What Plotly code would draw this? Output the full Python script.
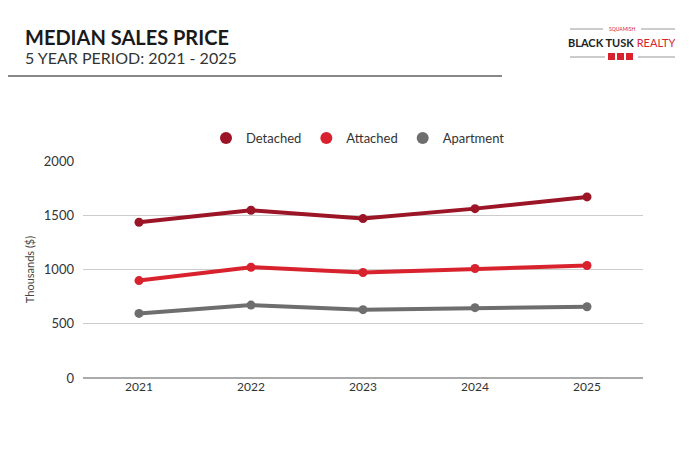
import plotly.graph_objects as go

years = ["2021", "2022", "2023", "2024", "2025"]
detached = [1435, 1546, 1469, 1561, 1669]
attached = [898, 1021, 972, 1009, 1037]
apartment = [595, 672, 630, 648, 657]
y_ticks = [0, 500, 1000, 1500, 2000]

FONT = "Lato"
series = [
    ("Detached", detached, "#9b1526"),
    ("Attached", attached, "#d8232e"),
    ("Apartment", apartment, "#6e6e6e"),
]

# screen-space plot box (the page body adds an 8px offset)
OFF = 8
L, T, W, H = 83, 161, 560, 217

def px(x):
    return (x - L) / W

def py(y):
    return 1 + (T - y) / H

fig = go.Figure()
for name, vals, col in series:
    fig.add_trace(go.Scatter(
        x=years, y=vals, name=name, mode="lines+markers", showlegend=False,
        line=dict(color=col, width=4),
        marker=dict(color=col, size=9),
    ))
    fig.add_trace(go.Scatter(
        x=[None], y=[None], name=name, mode="markers", showlegend=True,
        marker=dict(color=col, size=13),
    ))

fig.update_layout(
    width=700, height=450,
    paper_bgcolor="white", plot_bgcolor="white",
    margin=dict(l=L - OFF, r=700 - (L + W - OFF), t=T - OFF, b=450 - (T + H - OFF)),
    font=dict(family=FONT, color="#333333", size=12),
    showlegend=True,
    legend=dict(orientation="h", x=px(358), xanchor="center", y=py(138), yanchor="middle",
                font=dict(size=13, color="#333333"), itemsizing="constant",
                itemwidth=30, traceorder="normal", tracegroupgap=0),
    xaxis=dict(type="category", range=[-0.5, 4.5], showgrid=False, showline=False,
               ticks="", tickfont=dict(size=12, color="#333333")),
    yaxis=dict(range=[0, 2000], tickvals=y_ticks, showgrid=True, gridcolor="#cccccc",
               gridwidth=1, zeroline=True, zerolinecolor="#aaaaaa", zerolinewidth=2,
               tickfont=dict(size=13, color="#333333"), ticklabelstandoff=8,
               title=dict(text="Thousands ($)", font=dict(size=11, color="#444444"), standoff=6)),
)

# Title block
fig.add_annotation(text="<b>MEDIAN SALES PRICE</b>", xref="paper", yref="paper",
                   x=px(23), y=py(37), xanchor="left", yanchor="middle",
                   showarrow=False, font=dict(size=20, color="#1a1a1a", family=FONT))
fig.add_annotation(text="5 YEAR PERIOD: 2021 - 2025", xref="paper", yref="paper",
                   x=px(23), y=py(58), xanchor="left", yanchor="middle",
                   showarrow=False, font=dict(size=16, color="#333333", family=FONT))
fig.add_shape(type="line", xref="paper", yref="paper",
              x0=px(0), x1=px(502), y0=py(76), y1=py(76),
              line=dict(color="#888888", width=2))

# Logo
fig.add_annotation(text="SQUAMISH", xref="paper", yref="paper", x=px(622), y=py(29),
                   xanchor="center", yanchor="middle",
                   showarrow=False, font=dict(size=5, color="#d8232e", family=FONT))
fig.add_annotation(text="<b>BLACK TUSK</b> <span style='color:#d8232e'>REALTY</span>",
                   xref="paper", yref="paper", x=px(621.5), y=py(43),
                   xanchor="center", yanchor="middle",
                   showarrow=False, font=dict(size=11, color="#222222", family=FONT))
for x0, x1, y in [(570, 603, 29), (641, 675, 29), (570, 605, 57), (638, 675, 57)]:
    fig.add_shape(type="line", xref="paper", yref="paper", x0=px(x0), x1=px(x1),
                  y0=py(y), y1=py(y), line=dict(color="#999999", width=1))
for xs in [608, 617, 626]:
    fig.add_shape(type="rect", xref="paper", yref="paper", x0=px(xs), x1=px(xs + 7),
                  y0=py(60), y1=py(53), line=dict(width=0), fillcolor="#d8232e")

fig.write_html("out.html")
